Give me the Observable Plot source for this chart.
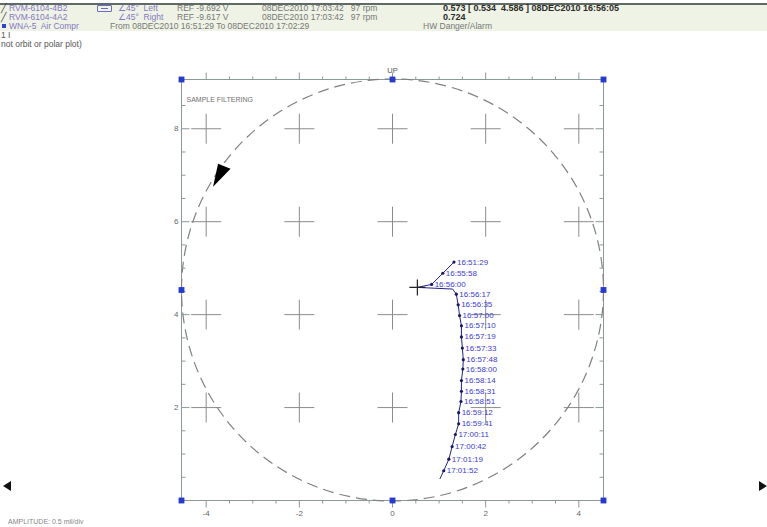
<!DOCTYPE html>
<html>
<head>
<meta charset="utf-8">
<script src="https://cdn.jsdelivr.net/npm/d3@7"></script>
<script src="https://cdn.jsdelivr.net/npm/@observablehq/plot@0.6"></script>
<style>
  html, body { margin: 0; padding: 0; background: white; }
  #page { position: relative; width: 767px; height: 527px; overflow: hidden; font-family: "Liberation Sans", Arial, sans-serif; }
  #chart { position: absolute; left: 0; top: 0; }
  .t { position: absolute; white-space: pre; font-size: 8.5px; line-height: 10px; color: #777; }
  .n { color: #8676c6; }
  .b { color: #2a2a2a; font-weight: bold; font-size: 9px; }
</style>
</head>
<body>
<div id="page">
  <div id="chart"></div>
  <div style="position:absolute;left:0;top:3px;width:767px;height:2px;background:#5d6b62;z-index:2"></div>
  <div style="position:absolute;left:0;top:5px;width:767px;height:26px;background:#eef3e5;z-index:1"></div>
  <div id="hdr" style="position:absolute;left:0;top:0;width:767px;height:60px;z-index:3"></div>
  <div class="t" style="left:8px;top:517px;font-size:7px;color:#888;z-index:3">AMPLITUDE: 0.5 mil/div</div>
  <div style="position:absolute;left:3px;top:481px;width:0;height:0;border-top:5px solid transparent;border-bottom:5px solid transparent;border-right:8px solid #111;z-index:3"></div>
  <div style="position:absolute;left:759px;top:481px;width:0;height:0;border-top:5px solid transparent;border-bottom:5px solid transparent;border-left:8px solid #111;z-index:3"></div>
</div>
<script>
// ---------- data ----------
const channels = ["RVM-6104-4B2", "RVM-6104-4A2"];
const probeAngles = ["∠45°  Left", "∠45°  Right"];
const refVolts = ["REF -9.692 V", "REF -9.617 V"];
const stamps = ["08DEC2010 17:03:42   97 rpm", "08DEC2010 17:03:42   97 rpm"];
const readouts = ["0.573 [ 0.534  4.586 ] 08DEC2010 16:56:05", "0.724"];
const machine = "WNA-5  Air Compr";
const rangeText = "From 08DEC2010 16:51:29 To 08DEC2010 17:02:29";
const alarmText = "HW Danger/Alarm";

const xDomain = [-4.53, 4.53];
const yDomain = [0, 9.06];
const xMajor = [-4, -2, 0, 2, 4];
const xMinor = [-3.5, -3, -2.5, -1.5, -1, -0.5, 0.5, 1, 1.5, 2.5, 3, 3.5];
const yMajor = [2, 4, 6, 8];
const yMinor = [0.5, 1, 1.5, 2.5, 3, 3.5, 4.5, 5, 5.5, 6.5, 7, 7.5, 8.5];

// slow-roll trace (time, x, y) in plot units
const times = ["16:51:29", "16:55:58", "16:56:00", "", "", "16:56:17", "16:56:35", "16:57:00", "16:57:10",
  "16:57:19", "16:57:33", "16:57:48", "16:58:00", "16:58:14", "16:58:31", "16:58:51", "16:59:12",
  "16:59:41", "17:00:11", "17:00:42", "17:01:19", "17:01:52", ""];
const tx = [1.32, 1.08, 0.84, 0.534, 1.29, 1.37, 1.41, 1.44, 1.48, 1.48, 1.50, 1.52, 1.51, 1.48, 1.48,
  1.47, 1.42, 1.42, 1.35, 1.28, 1.21, 1.10, 1.02];
const ty = [5.13, 4.89, 4.65, 4.586, 4.55, 4.44, 4.21, 3.98, 3.76, 3.52, 3.28, 3.03, 2.83, 2.58, 2.35,
  2.13, 1.89, 1.65, 1.42, 1.16, 0.89, 0.64, 0.47];
const cursor = {x: 0.534, y: 4.586};
const circleCenter = {x: 0, y: 4.53};
const circleR = 211;
const arrowAt = {x: -3.67, y: 7.0};
const handleX = [-4.53, 0, 4.53, -4.53, 4.53, -4.53, 0, 4.53];
const handleY = [0, 0, 0, 4.53, 4.53, 9.06, 9.06, 9.06];

// ---------- header ----------
const hdr = document.getElementById("hdr");
function span(txt, left, top, cls, extra) {
  const s = document.createElement("div");
  s.className = "t " + (cls || "");
  s.style.left = left + "px"; s.style.top = top + "px";
  if (extra) Object.assign(s.style, extra);
  s.textContent = txt;
  hdr.appendChild(s);
}
const rows = [3, 12];
rows.forEach((top, i) => {
  span("╱", 1, top, "", {color: "#444"});
  span(channels[i], 9, top, "n");
  span(probeAngles[i], 118, top, "n");
  span(refVolts[i], 177, top);
  span(stamps[i], 262, top);
  span(readouts[i], 443, top, "b");
});
{
  const box = document.createElement("div");
  Object.assign(box.style, {position: "absolute", left: "97px", top: "5px", width: "13px", height: "5px",
    border: "1px solid #6b6bcf", borderRadius: "1px"});
  const ln = document.createElement("div");
  Object.assign(ln.style, {position: "absolute", left: "3px", top: "2px", width: "7px", height: "1px", background: "#6b6bcf"});
  box.appendChild(ln);
  hdr.appendChild(box);
  const sq = document.createElement("div");
  Object.assign(sq.style, {position: "absolute", left: "2px", top: "24px", width: "4px", height: "4px", background: "#3344cc"});
  hdr.appendChild(sq);
}
span(machine, 9, 21, "n");
span(rangeText, 110, 21);
span(alarmText, 423, 21);
span("1 I", 1, 30, "", {color: "#555"});
span("not orbit or polar plot)", 1, 39, "", {color: "#555"});

// ---------- symbols ----------
const plusSym = (a) => ({draw(c) { c.moveTo(-a, 0); c.lineTo(a, 0); c.moveTo(0, -a); c.lineTo(0, a); }});
const vTick = (a) => ({draw(c) { c.moveTo(0, 0); c.lineTo(0, a); }});
const hTick = (a) => ({draw(c) { c.moveTo(0, 0); c.lineTo(a, 0); }});
const arrowSym = {draw(c) { c.moveTo(-8.5, 11.5); c.lineTo(-3.5, -11.5); c.lineTo(9, -6.5); c.closePath(); }};

const grid = [];
for (const gx of xMajor) for (const gy of yMajor) grid.push({x: gx, y: gy});
const trace = times.map((t, i) => ({t, x: tx[i], y: ty[i]}));
const labeled = trace.filter(d => d.t !== "");
const handles = handleX.map((x, i) => ({x, y: handleY[i]}));

const axisColor = "#8a9a99";
const tickStyle = {stroke: axisColor, strokeWidth: 1, fill: "none"};

const chart = Plot.plot({
  width: 767,
  height: 527,
  marginLeft: 181, marginRight: 164, marginTop: 79, marginBottom: 27,
  x: {domain: xDomain, axis: null},
  y: {domain: yDomain, axis: null},
  style: {fontFamily: "Liberation Sans, Arial, sans-serif", background: "white", color: "#666"},
  marks: [
    Plot.frame({stroke: axisColor}),
    // grid crosses
    Plot.dot(grid, {x: "x", y: "y", symbol: plusSym(15), stroke: "#8c8c8c", strokeWidth: 1, fill: "none"}),
    // rotation circle
    Plot.dot([circleCenter], {x: "x", y: "y", r: circleR, fill: "none", stroke: "#808080", strokeWidth: 1.2, strokeDasharray: "11,6"}),
    // ticks bottom & top
    Plot.dot(xMajor, {x: d => d, frameAnchor: "bottom", symbol: vTick(7), ...tickStyle}),
    Plot.dot(xMinor, {x: d => d, frameAnchor: "bottom", symbol: vTick(3), ...tickStyle}),
    Plot.dot(xMajor, {x: d => d, frameAnchor: "top", symbol: vTick(-7), ...tickStyle}),
    Plot.dot(xMinor, {x: d => d, frameAnchor: "top", symbol: vTick(-3), ...tickStyle}),
    // ticks left & right (inward)
    Plot.dot(yMajor, {y: d => d, frameAnchor: "left", symbol: hTick(8), ...tickStyle}),
    Plot.dot(yMinor, {y: d => d, frameAnchor: "left", symbol: hTick(4), ...tickStyle}),
    Plot.dot(yMajor, {y: d => d, frameAnchor: "right", symbol: hTick(-8), ...tickStyle}),
    Plot.dot(yMinor, {y: d => d, frameAnchor: "right", symbol: hTick(-4), ...tickStyle}),
    // tick labels
    Plot.axisX({anchor: "bottom", ticks: xMajor, tickSize: 0, tickPadding: 10, fontSize: 8, label: null, fill: "#666", tickFormat: d => String(d)}),
    Plot.axisY({anchor: "left", ticks: yMajor, tickSize: 0, tickPadding: 3, fontSize: 8, label: null, fill: "#666", tickFormat: d => String(d)}),
    Plot.text(["UP"], {frameAnchor: "top", dy: -12, text: d => d, fontSize: 7.5, fill: "#555"}),
    Plot.text(["SAMPLE FILTERING"], {frameAnchor: "top-left", dx: 5, dy: 18, text: d => d, textAnchor: "start", fontSize: 7, fill: "#6f6f6f"}),
    // handles
    Plot.dot(handles, {x: "x", y: "y", symbol: "square", r: 3.3, fill: "#2639d0"}),
    // rotation arrow
    Plot.dot([arrowAt], {x: "x", y: "y", symbol: arrowSym, fill: "#000", stroke: "none"}),
    // trace
    Plot.line(trace, {x: "x", y: "y", stroke: "#22228a", strokeWidth: 1}),
    Plot.dot(labeled, {x: "x", y: "y", r: 1.6, fill: "#17176a"}),
    Plot.text(labeled, {x: "x", y: "y", text: "t", dx: 3, textAnchor: "start", fontSize: 8, fill: "#3b3bd4"}),
    Plot.dot([cursor], {x: "x", y: "y", symbol: plusSym(8), stroke: "#222", strokeWidth: 1.2, fill: "none"})
  ]
});
document.getElementById("chart").appendChild(chart);
</script>
</body>
</html>
